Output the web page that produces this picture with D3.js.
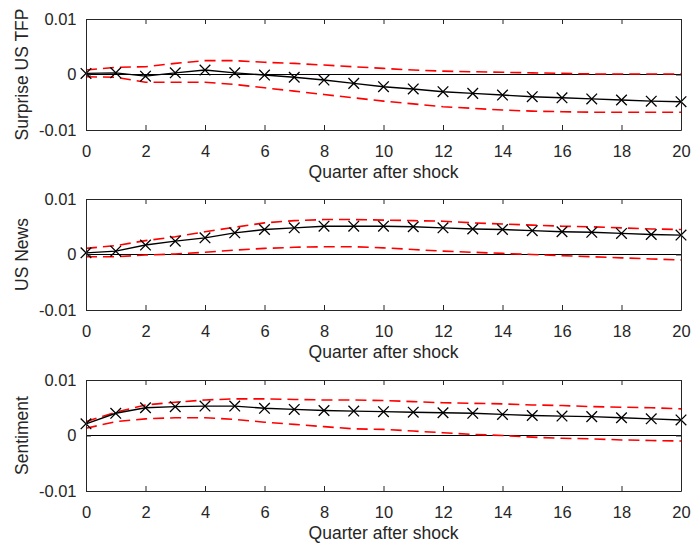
<!DOCTYPE html>
<html><head><meta charset="utf-8">
<script src="https://cdn.jsdelivr.net/npm/d3@7"></script>
<style>body{margin:0;background:#fff}svg{display:block}text{font-family:"Liberation Sans",Arial,sans-serif;fill:#262626}</style>
</head><body>
<script>
const quarters = d3.range(0, 21);
const xTicks = [0,2,4,6,8,10,12,14,16,18,20];
const yTicks = [-0.01, 0, 0.01];
const yTickLabels = ["-0.01", "0", "0.01"];
const panelTitles = ["Surprise US TFP", "US News", "Sentiment"];
const xLabel = "Quarter after shock";

const tfpMid = [0.0002,0.0003,-0.0003,0.0003,0.0008,0.0003,-0.0001,-0.0005,-0.0010,-0.0016,-0.0022,-0.0026,-0.0031,-0.0034,-0.0037,-0.0040,-0.0042,-0.0044,-0.0046,-0.0048,-0.0049];
const tfpUpper = [0.0008,0.0013,0.0014,0.0020,0.0025,0.0025,0.0022,0.0020,0.0017,0.0014,0.0011,0.0008,0.0006,0.0005,0.0004,0.0003,0.0002,0.0001,0.0001,0.0001,0.0001];
const tfpLower = [-0.0004,-0.0005,-0.0014,-0.0014,-0.0014,-0.0018,-0.0024,-0.0030,-0.0036,-0.0042,-0.0048,-0.0053,-0.0058,-0.0061,-0.0064,-0.0066,-0.0067,-0.0068,-0.0068,-0.0068,-0.0068];

const newsMid = [0.0003,0.0006,0.0017,0.0024,0.0030,0.0039,0.0045,0.0048,0.0051,0.0051,0.0051,0.0050,0.0048,0.0046,0.0045,0.0043,0.0041,0.0040,0.0038,0.0036,0.0035];
const newsUpper = [0.0011,0.0016,0.0025,0.0032,0.0041,0.0049,0.0057,0.0061,0.0063,0.0063,0.0062,0.0061,0.0060,0.0057,0.0055,0.0053,0.0051,0.0050,0.0048,0.0046,0.0045];
const newsLower = [-0.0004,-0.0004,-0.0001,0.0001,0.0004,0.0008,0.0011,0.0013,0.0014,0.0014,0.0012,0.0009,0.0006,0.0004,0.0002,0.0000,-0.0002,-0.0004,-0.0006,-0.0008,-0.0010];

const sentMid = [0.0021,0.0040,0.0050,0.0052,0.0053,0.0053,0.0049,0.0047,0.0045,0.0044,0.0043,0.0042,0.0041,0.0040,0.0038,0.0036,0.0035,0.0034,0.0032,0.0030,0.0028];
const sentUpper = [0.0025,0.0042,0.0055,0.0060,0.0064,0.0066,0.0066,0.0065,0.0064,0.0064,0.0063,0.0061,0.0059,0.0058,0.0057,0.0055,0.0054,0.0052,0.0051,0.0050,0.0048];
const sentLower = [0.0013,0.0025,0.0030,0.0032,0.0032,0.0029,0.0024,0.0020,0.0016,0.0012,0.0011,0.0008,0.0005,0.0002,0.0000,-0.0003,-0.0005,-0.0006,-0.0008,-0.0009,-0.0010];

const panels = [
  {title: panelTitles[0], mid: tfpMid, upper: tfpUpper, lower: tfpLower},
  {title: panelTitles[1], mid: newsMid, upper: newsUpper, lower: newsLower},
  {title: panelTitles[2], mid: sentMid, upper: sentUpper, lower: sentLower}
];

const W = 691, H = 546;
const left = 86, right = 681, panelH = 111;
const tops = [19, 199, 380];
const axisColor = "#262626";

const svg = d3.select("body").append("svg").attr("width", W).attr("height", H);
const x = d3.scaleLinear().domain([0, 20]).range([left, right]);

panels.forEach((p, i) => {
  const top = tops[i], bottom = top + panelH;
  const y = d3.scaleLinear().domain([-0.01, 0.01]).range([bottom, top]);
  const g = svg.append("g");

  g.append("line").attr("x1", x(0)).attr("x2", x(20)).attr("y1", y(0)).attr("y2", y(0))
    .attr("stroke", "#000").attr("stroke-width", 1.2);

  const line = d3.line().x((d, j) => x(quarters[j])).y(d => y(d));
  [p.upper, p.lower].forEach(arr => {
    g.append("path").attr("d", line(arr)).attr("fill", "none")
      .attr("stroke", "#ff0000").attr("stroke-width", 1.6).attr("stroke-dasharray", "11,6");
  });
  g.append("path").attr("d", line(p.mid)).attr("fill", "none")
    .attr("stroke", "#000").attr("stroke-width", 1.4);
  const s = 5.3;
  g.selectAll(".mk").data(p.mid).enter().append("path")
    .attr("d", (d, j) => {
      const cx = x(quarters[j]), cy = y(d);
      return `M${cx-s},${cy-s}L${cx+s},${cy+s}M${cx-s},${cy+s}L${cx+s},${cy-s}`;
    })
    .attr("stroke", "#000").attr("stroke-width", 1.3).attr("fill", "none");

  const ax = svg.append("g");
  const xb = d3.axisBottom(x).tickValues(xTicks).tickSizeInner(-5).tickSizeOuter(0).tickPadding(15);
  const xt = d3.axisTop(x).tickValues(xTicks).tickSizeInner(-5).tickSizeOuter(0).tickFormat("");
  const yl = d3.axisLeft(y).tickValues(yTicks).tickSizeInner(-5).tickSizeOuter(0).tickPadding(9.5)
      .tickFormat((d, k) => yTickLabels[k]);
  const yr = d3.axisRight(y).tickValues(yTicks).tickSizeInner(-5).tickSizeOuter(0).tickFormat("");
  [[xb, `translate(0,${bottom})`], [xt, `translate(0,${top})`], [yl, `translate(${left},0)`], [yr, `translate(${right},0)`]]
    .forEach(([a, t]) => {
      const gg = ax.append("g").attr("transform", t).call(a);
      gg.selectAll("path.domain").attr("stroke", axisColor).attr("stroke-width", 1);
      gg.selectAll(".tick line").attr("stroke", axisColor);
      gg.selectAll("text").style("font-size", "16.5px").attr("fill", axisColor)
        .style("font-family", '"Liberation Sans", Arial, sans-serif');
    });

  svg.append("text").attr("x", (left + right) / 2).attr("y", bottom + 48)
    .attr("text-anchor", "middle").style("font-size", "17.5px").text(xLabel);
  svg.append("text").attr("transform", `translate(28,${(top + bottom) / 2}) rotate(-90)`)
    .attr("text-anchor", "middle").style("font-size", "17.5px").text(p.title);
});
</script>
</body></html>
